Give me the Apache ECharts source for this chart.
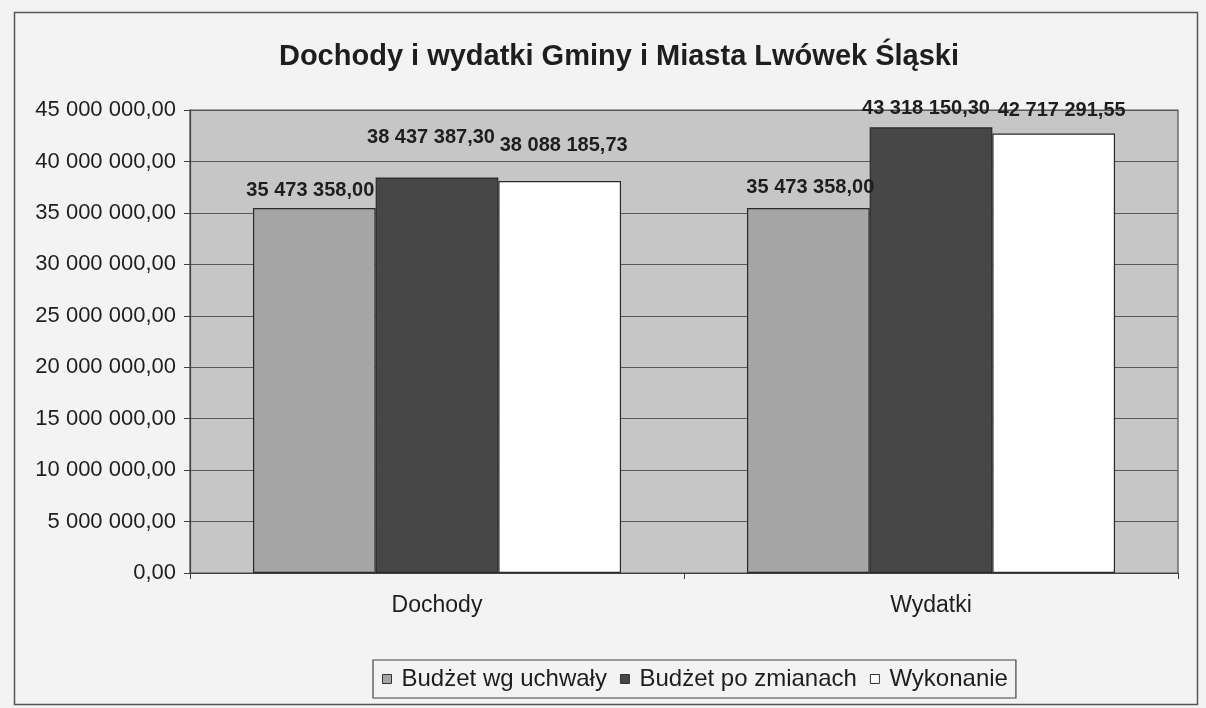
<!DOCTYPE html>
<html>
<head>
<meta charset="utf-8">
<script src="https://cdn.jsdelivr.net/npm/echarts@6/dist/echarts.min.js"></script>
<style>
html,body{margin:0;padding:0;background:#f3f3f3;}
#c{width:1206px;height:708px;}
</style>
</head>
<body>
<div id="c"></div>
<script>
const titleText = 'Dochody i wydatki Gminy i Miasta Lwówek Śląski';
const categories = ['Dochody', 'Wydatki'];
const seriesNames = ['Budżet wg uchwały', 'Budżet po zmianach', 'Wykonanie'];
const budzetWgUchwaly = [35473358.00, 35473358.00];
const budzetPoZmianach = [38437387.30, 43318150.30];
const wykonanie = [38088185.73, 42717291.55];
const yMin = 0, yMax = 45000000, yStep = 5000000;

function plNum(v) {
  const parts = v.toFixed(2).split('.');
  return parts[0].replace(/\B(?=(\d{3})+(?!\d))/g, ' ') + ',' + parts[1];
}

const seriesValues = [budzetWgUchwaly, budzetPoZmianach, wykonanie];
const fills = ['#a6a6a6', '#474747', '#ffffff'];
// label lift above each bar (staggered as in the original Excel layout)
const lift = [[8, 11], [30, 9], [26, 13]];
const shiftX = [[-4, 2], [-6, -5], [4, 8]];

const chart = echarts.init(document.getElementById('c'), null, {renderer: 'canvas'});
chart.setOption({
  backgroundColor: '#f3f3f3',
  animation: false,
  title: {
    text: titleText,
    left: 614, top: 37, textAlign: 'center',
    textStyle: {fontFamily: 'Liberation Sans', fontSize: 29, fontWeight: 'bold', color: '#1e1e1e'}
  },
  graphic: [{
    type: 'rect', left: 12, top: 10, z: -1,
    shape: {width: 1183, height: 692},
    style: {fill: 'none', stroke: '#555', lineWidth: 1.5}
  }],
  legend: {
    data: seriesNames,
    icon: 'rect',
    left: 373, top: 660,
    padding: [7, 8, 7, 9],
    borderColor: '#444', borderWidth: 1.2,
    itemWidth: 9, itemHeight: 9, itemGap: 13,
    itemStyle: {borderColor: '#333', borderWidth: 1},
    textStyle: {fontFamily: 'Liberation Sans', fontSize: 24, color: '#1e1e1e', padding: [0, 0, 0, 5]}
  },
  grid: {
    left: 190, right: 28, top: 110, bottom: 135,
    show: true, backgroundColor: '#c6c6c6', borderColor: '#505050', borderWidth: 1.2
  },
  xAxis: {
    type: 'category', data: categories,
    axisLine: {lineStyle: {color: '#404040', width: 1.2}},
    axisTick: {show: true, length: 6, lineStyle: {color: '#404040'}},
    axisLabel: {fontFamily: 'Liberation Sans', fontSize: 23, color: '#1e1e1e', margin: 21}
  },
  yAxis: {
    type: 'value', min: yMin, max: yMax, interval: yStep,
    axisLine: {show: true, lineStyle: {color: '#404040', width: 1.2}},
    axisTick: {show: true, length: 6, lineStyle: {color: '#404040'}},
    splitLine: {lineStyle: {color: '#5a5a5a', width: 1.2}},
    axisLabel: {fontFamily: 'Liberation Sans', fontSize: 22, color: '#1e1e1e', margin: 14,
      formatter: v => plNum(v)}
  },
  series: seriesNames.map((name, si) => ({
    name: name, type: 'bar',
    barGap: '0%', barCategoryGap: '25.5%',
    itemStyle: {color: fills[si], borderColor: '#2a2a2a', borderWidth: 1.2},
    data: seriesValues[si].map((v, ci) => ({
      value: v,
      label: {distance: lift[si][ci], offset: [shiftX[si][ci], 0]}
    })),
    label: {
      show: true, position: 'top',
      fontFamily: 'Liberation Sans', fontSize: 20, fontWeight: 'bold', color: '#1e1e1e',
      formatter: p => plNum(p.value)
    }
  }))
});
</script>
</body>
</html>
